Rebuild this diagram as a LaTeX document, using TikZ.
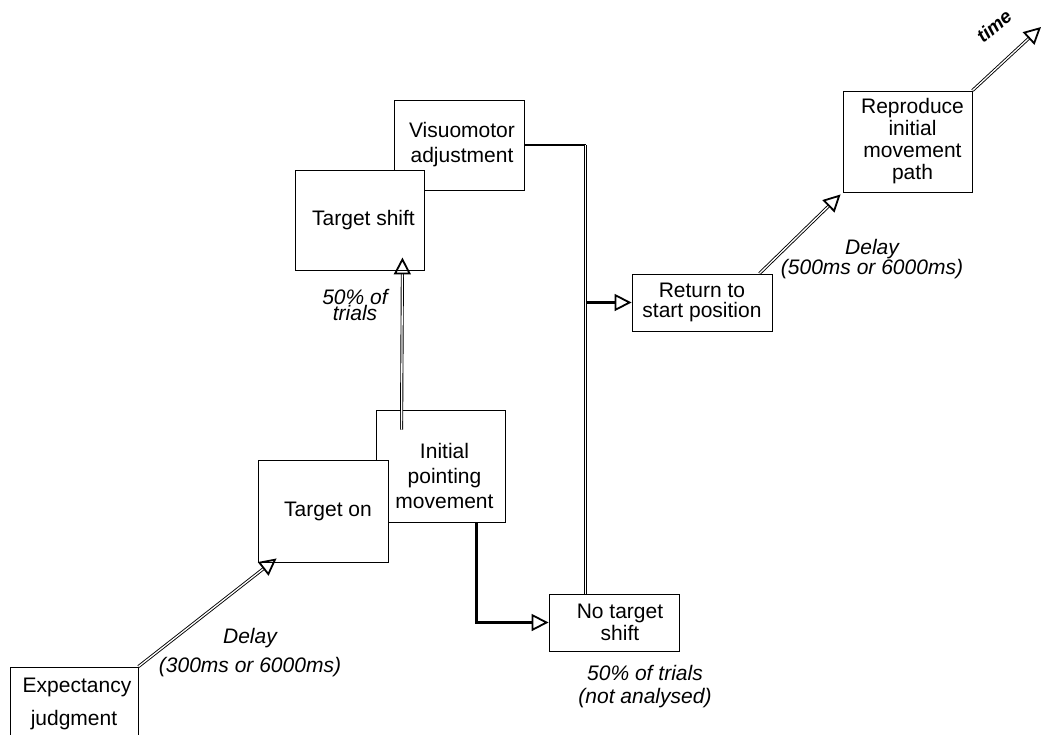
\documentclass[tikz,border=0pt]{standalone}
\usepackage{fontspec}
\setmainfont{Liberation Sans}
\usetikzlibrary{
		calc,
		arrows.meta,
		positioning
	}
\tikzset{
		>={Triangle[open,length=17pt,width=17pt,line width=1.8pt]},
		box/.style={draw, fill=white, line width=0.9pt, align=center, inner sep=0pt,
			font=\fontsize{21}{24}\selectfont},
		note/.style={align=center, inner sep=0pt, font=\fontsize{21}{24}\selectfont\itshape},
		dbl/.style={double, double distance=1.3pt, line width=0.9pt},
		heavy/.style={line width=2.6pt}
	}

\begin{document}
\begin{tikzpicture}[x=1pt,y=-1pt]
\useasboundingbox (0,0) rectangle (1042,734);
\node[box, minimum width=128, minimum height=73] (expect) at (74,703.5) {\hspace*{6pt}Expectancy\\[9pt]judgment};
\node[box, minimum width=129, minimum height=112] (initial) at (440.5,466) {\rule{0pt}{35pt}\hspace*{8pt}Initial\\[1pt]\hspace*{8pt}pointing\\[1pt]\hspace*{8pt}movement};
\node[box, minimum width=130, minimum height=102] (tgton) at (323,511) {\hspace*{10pt}Target on};
\node[box, minimum width=130, minimum height=90] (visuo) at (459,145) {\hspace*{6pt}Visuomotor\\[1pt]\hspace*{6pt}adjustment};
\node[box, minimum width=129, minimum height=100] (tshift) at (359.5,220) {\hspace*{8pt}Target shift};
\node[box, minimum width=130, minimum height=57] (noshift) at (614,622.5) {\hspace*{12pt}No target\\[-2pt]\hspace*{12pt}shift};
\node[box, minimum width=140, minimum height=57] (return) at (702,302.5) {Return to\\[-4pt]start position};
\node[box, minimum width=129, minimum height=101] (reprod) at (907.5,141.5) {\hspace*{10pt}Reproduce\\[-2pt]\hspace*{10pt}initial\\[-2pt]\hspace*{10pt}movement\\[-2pt]\hspace*{10pt}path};

\node[note] (delayA) at (250,653) {Delay\\[5pt](300ms or 6000ms)};
\node[note] (pctA) at (355,305) {50\% of\\[-8pt]trials};
\node[note] (pctB) at (645,687) {50\% of trials\\[-1pt](not analysed)};
\node[note] (delayB) at (872,259) {Delay\\[-4pt](500ms or 6000ms)};
\node[rotate=40, inner sep=0pt, font=\fontsize{19}{22}\selectfont\bfseries\itshape] (timelbl) at (994,26) {time};

\coordinate (drop) at ($(noshift.north west)+(37,0)$);
\coordinate (bend) at (drop |- visuo.east);
\coordinate (timeend) at (1041,27);

\draw[dbl,->] (expect.north east) -- ($(tgton.south west)+(19,-4)$);
\draw[dbl,->] ($(initial.north west)+(26,20)$) -- ($(tshift.south east)+(-22,-13)$);
\draw[heavy,->] ($(initial.south east)+(-29,0)$) |- (noshift.west);
\draw[heavy] (visuo.east) -- (bend);
\draw[dbl] (bend) -- (drop);
\draw[heavy,->] (bend |- return.west) -- (return.west);
\draw[dbl,->] ($(return.north east)+(-13,0)$) -- ($(reprod.south west)+(-2,2)$);
\draw[dbl,->] (reprod.north east) -- (timeend);
\end{tikzpicture}
\end{document}
